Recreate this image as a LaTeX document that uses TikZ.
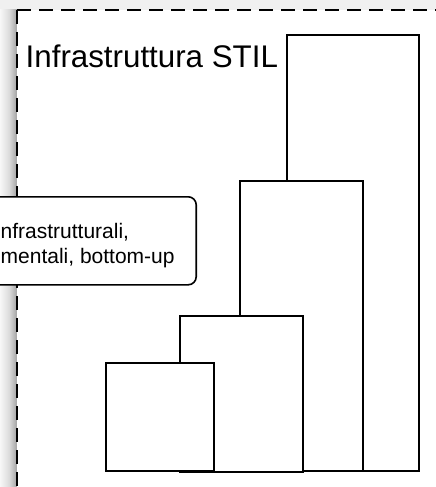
\documentclass[tikz,border=0pt]{standalone}
\usepackage{fontspec}
\setmainfont{Liberation Sans}
\begin{document}
\begin{tikzpicture}[x=1pt,y=-1pt,
  blockbox/.style={draw=black, fill=white, line width=1.8pt, inner sep=0pt, anchor=north west},
  panelline/.style={draw=black, line width=2.2pt, dash pattern=on 14pt off 8pt},
  calloutbox/.style={draw=black, fill=white, line width=1.6pt, rounded corners=8pt, inner sep=0pt, anchor=north east},
  titletext/.style={font=\fontsize{31.3}{37}\selectfont, inner sep=0pt, anchor=base west},
  callouttext/.style={font=\fontsize{21}{25}\selectfont, inner sep=0pt, anchor=base west}
]
\useasboundingbox (0,0) rectangle (436,487);
\clip (0,0) rectangle (436,487);
% background outside the panel
\fill[gray!12] (0,0) rectangle (436,10);
\fill[left color=gray!6, right color=gray!28] (0,10) rectangle (9,487);
\fill[left color=gray!28, right color=gray!72] (9,10) rectangle (17,487);
\fill[white] (17,10) rectangle (440,490);
% panel border
\coordinate (pc) at (17,10);
\coordinate (pr) at (440,10);
\coordinate (pb) at (17,490);
\draw[panelline] (pc) -- (pr);
\draw[panelline] (pc) -- (pb);
% title
\node[titletext] (title) at (25.5,67) {Infrastruttura STIL};
% stacked boxes, back to front
\node[blockbox, minimum width=132, minimum height=436] (b1) at (286,34) {};
\node[blockbox, minimum width=123, minimum height=290] (b2) at (239,180) {};
\node[blockbox, minimum width=123, minimum height=156] (b3) at (179,315) {};
\node[blockbox, minimum width=108, minimum height=108] (b4) at (105,362) {};
% callout
\node[calloutbox, minimum width=230, minimum height=88] (cb) at (197,196) {};
\node[callouttext] (ct1) at (0.5,238) {nfrastrutturali,};
\node[callouttext] (ct2) at (0.5,263) {mentali, bottom-up};
\end{tikzpicture}
\end{document}
